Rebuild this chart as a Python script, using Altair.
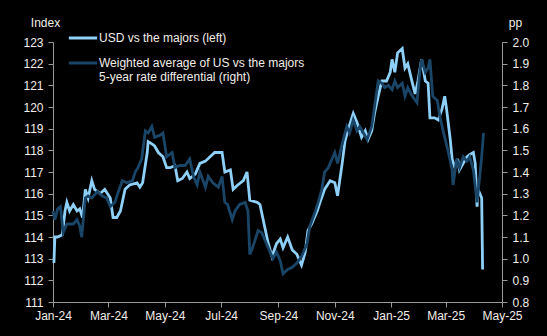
import altair as alt
import pandas as pd

# USD vs the majors (left axis, index)
usd_dates = [
    "2024-01-02", "2024-01-03", "2024-01-06", "2024-01-11", "2024-01-14", "2024-01-16", "2024-01-19",
    "2024-01-23", "2024-01-27", "2024-01-30", "2024-02-02", "2024-02-05", "2024-02-08", "2024-02-12",
    "2024-02-15", "2024-02-21", "2024-02-26", "2024-03-03", "2024-03-06", "2024-03-10", "2024-03-14",
    "2024-03-19", "2024-03-24", "2024-04-01", "2024-04-04", "2024-04-07", "2024-04-12", "2024-04-13",
    "2024-04-17", "2024-04-20", "2024-04-24", "2024-04-29", "2024-05-03", "2024-05-07", "2024-05-12",
    "2024-05-15", "2024-05-20", "2024-05-25", "2024-05-28", "2024-06-03", "2024-06-08", "2024-06-14",
    "2024-06-19", "2024-06-24", "2024-06-28", "2024-07-02", "2024-07-05", "2024-07-11", "2024-07-14",
    "2024-07-19", "2024-07-25", "2024-07-29", "2024-08-01", "2024-08-09", "2024-08-12", "2024-08-17",
    "2024-08-21", "2024-08-25", "2024-08-30", "2024-09-03", "2024-09-06", "2024-09-11", "2024-09-16",
    "2024-09-21", "2024-09-26", "2024-09-30", "2024-10-03", "2024-10-07", "2024-10-13", "2024-10-16",
    "2024-10-21", "2024-10-27", "2024-11-01", "2024-11-04", "2024-11-09", "2024-11-12", "2024-11-15",
    "2024-11-21", "2024-11-25", "2024-11-30", "2024-12-04", "2024-12-07", "2024-12-11", "2024-12-14",
    "2024-12-18", "2024-12-22", "2024-12-27", "2024-12-31", "2025-01-02", "2025-01-05", "2025-01-08",
    "2025-01-13", "2025-01-16", "2025-01-19", "2025-01-24", "2025-01-27", "2025-01-30", "2025-02-03",
    "2025-02-07", "2025-02-10", "2025-02-12", "2025-02-17", "2025-02-21", "2025-02-25", "2025-02-28",
    "2025-03-02", "2025-03-06", "2025-03-08", "2025-03-11", "2025-03-14", "2025-03-16", "2025-03-20",
    "2025-03-24", "2025-03-27", "2025-03-31", "2025-04-02", "2025-04-04", "2025-04-05", "2025-04-09",
    "2025-04-10",
]
usd_values = [
    112.8, 114.0, 114.0, 114.1, 115.2, 115.6, 115.2, 115.5, 115.2, 115.3,
    114.9, 116.2, 115.8, 116.6, 116.2, 116.0, 116.2, 115.8, 114.9, 114.9,
    115.2, 116.2, 116.4, 116.5, 116.3, 116.5, 117.9, 118.4, 118.3, 118.2,
    117.9, 117.7, 117.2, 117.2, 117.3, 116.6, 116.7, 117.0, 116.7, 116.9,
    117.4, 117.5, 117.7, 117.9, 117.9, 117.9, 117.0, 117.1, 116.2, 116.4,
    116.6, 117.0, 115.7, 115.6, 115.5, 114.5, 113.7, 113.1, 113.7, 113.9,
    113.5, 114.0, 113.4, 113.2, 112.7, 113.3, 114.3, 114.6, 115.2, 115.6,
    116.2, 116.6, 116.5, 115.9, 117.4, 118.4, 118.9, 119.7, 119.3, 118.6,
    118.9, 118.5, 118.9, 119.7, 120.5, 121.2, 121.2, 121.6, 122.2, 121.6,
    122.5, 122.7, 121.8, 122.0, 121.1, 120.6, 121.2, 122.2, 121.2, 121.1,
    119.5, 119.5, 119.4, 119.9, 120.5, 119.9, 118.5, 117.6, 117.2, 117.6,
    117.1, 117.4, 117.7, 117.8, 117.9, 117.4, 115.4, 116.2, 115.8, 112.5,
]

# Weighted average of US vs the majors 5-year rate differential (right axis, pp)
diff_dates = [
    "2024-01-01", "2024-01-03", "2024-01-06", "2024-01-09", "2024-01-12", "2024-01-16", "2024-01-19",
    "2024-01-23", "2024-01-27", "2024-01-30", "2024-02-01", "2024-02-05", "2024-02-08", "2024-02-12",
    "2024-02-18", "2024-02-23", "2024-02-28", "2024-03-03", "2024-03-08", "2024-03-11", "2024-03-16",
    "2024-03-21", "2024-03-27", "2024-03-30", "2024-04-02", "2024-04-06", "2024-04-10", "2024-04-13",
    "2024-04-17", "2024-04-20", "2024-04-26", "2024-04-29", "2024-05-03", "2024-05-09", "2024-05-12",
    "2024-05-17", "2024-05-23", "2024-05-28", "2024-06-01", "2024-06-05", "2024-06-08", "2024-06-14",
    "2024-06-17", "2024-06-22", "2024-06-28", "2024-07-02", "2024-07-05", "2024-07-08", "2024-07-13",
    "2024-07-16", "2024-07-21", "2024-07-27", "2024-07-30", "2024-08-01", "2024-08-04", "2024-08-10",
    "2024-08-14", "2024-08-17", "2024-08-21", "2024-08-26", "2024-08-30", "2024-09-03", "2024-09-06",
    "2024-09-11", "2024-09-16", "2024-09-21", "2024-09-26", "2024-10-02", "2024-10-05", "2024-10-11",
    "2024-10-14", "2024-10-18", "2024-10-21", "2024-10-25", "2024-10-29", "2024-11-01", "2024-11-04",
    "2024-11-09", "2024-11-14", "2024-11-17", "2024-11-21", "2024-11-25", "2024-11-28", "2024-12-02",
    "2024-12-06", "2024-12-11", "2024-12-14", "2024-12-18", "2024-12-22", "2024-12-25", "2024-12-29",
    "2025-01-02", "2025-01-05", "2025-01-08", "2025-01-13", "2025-01-16", "2025-01-19", "2025-01-24",
    "2025-01-29", "2025-02-01", "2025-02-03", "2025-02-07", "2025-02-10", "2025-02-12", "2025-02-15",
    "2025-02-20", "2025-02-23", "2025-02-28", "2025-03-04", "2025-03-08", "2025-03-09", "2025-03-13",
    "2025-03-16", "2025-03-20", "2025-03-24", "2025-03-27", "2025-03-31", "2025-04-04", "2025-04-05",
    "2025-04-09", "2025-04-11",
]
diff_values = [
    1.22, 1.18, 1.23, 1.24, 1.12, 1.16, 1.16, 1.16, 1.18, 1.15,
    1.10, 1.28, 1.29, 1.28, 1.31, 1.29, 1.28, 1.24, 1.26, 1.30,
    1.36, 1.35, 1.36, 1.40, 1.42, 1.46, 1.59, 1.58, 1.61, 1.56,
    1.57, 1.58, 1.47, 1.49, 1.42, 1.43, 1.43, 1.46, 1.38, 1.34,
    1.40, 1.33, 1.38, 1.35, 1.33, 1.38, 1.26, 1.25, 1.18, 1.22,
    1.25, 1.26, 1.22, 1.02, 1.05, 1.13, 1.12, 1.09, 1.05, 1.00,
    1.03, 0.99, 0.93, 0.95, 0.96, 0.98, 1.01, 1.07, 1.15, 1.22,
    1.26, 1.32, 1.40, 1.42, 1.46, 1.49, 1.44, 1.53, 1.61, 1.58,
    1.64, 1.59, 1.61, 1.58, 1.55, 1.61, 1.70, 1.82, 1.81, 1.79,
    1.80, 1.78, 1.82, 1.79, 1.81, 1.75, 1.79, 1.75, 1.72, 1.86,
    1.92, 1.86, 1.88, 1.92, 1.75, 1.73, 1.65, 1.56, 1.49, 1.41,
    1.34, 1.46, 1.42, 1.47, 1.45, 1.47, 1.41, 1.26, 1.30, 1.47,
    1.58,
]

series_names = ["USD vs the majors (left)", "Weighted average of US vs the majors"]
series_colors = ["#8ED0F8", "#1A4567"]
second_label_lines = ["Weighted average of US vs the majors", "5-year rate differential (right)"]

x_ticks = ["2024-01-01", "2024-03-01", "2024-05-01", "2024-07-01", "2024-09-01",
           "2024-11-01", "2025-01-01", "2025-03-01", "2025-05-01"]
left_ticks = list(range(111, 124))
right_ticks = [0.8, 0.9, 1.0, 1.1, 1.2, 1.3, 1.4, 1.5, 1.6, 1.7, 1.8, 1.9, 2.0]

usd_df = pd.DataFrame({"date": pd.to_datetime(usd_dates), "usd": usd_values,
                       "series": series_names[0]})
diff_df = pd.DataFrame({"date": pd.to_datetime(diff_dates), "diff": diff_values,
                        "series": series_names[1]})

TXT = "#F2EEE8"
AX = "#9A9A9A"
FONT = "Liberation Sans"

x_enc = alt.X(
    "date:T",
    scale=alt.Scale(domain=[x_ticks[0], x_ticks[-1]]),
    axis=alt.Axis(
        values=[pd.Timestamp(t).isoformat() for t in x_ticks],
        format="%b-%y", title=None, grid=False, labelFlush=False,
        labelPadding=3, tickSize=5,
    ),
)

label_expr = (
    "datum.label == '" + series_names[1] + "' ? ['" + second_label_lines[0] + "', '"
    + second_label_lines[1] + "'] : datum.label"
)

color_enc = alt.Color(
    "series:N",
    scale=alt.Scale(domain=series_names, range=series_colors),
    legend=alt.Legend(
        orient="none", legendX=14, legendY=-20, title=None,
        symbolType="stroke", symbolSize=800, symbolStrokeWidth=3,
        labelFontSize=12, labelColor=TXT, labelFont=FONT, labelLimit=400,
        rowPadding=3, labelOffset=0, labelExpr=label_expr,
    ),
)

usd_line = alt.Chart(usd_df).mark_line(strokeWidth=2.8, interpolate="linear").encode(
    x=x_enc,
    y=alt.Y(
        "usd:Q",
        scale=alt.Scale(domain=[111, 123], nice=False, zero=False),
        axis=alt.Axis(
            values=left_ticks, title="Index", titleAngle=0, titleAlign="center",
            titleX=-8, titleY=-13, titleFontWeight="normal", grid=False,
            labelPadding=5, tickSize=5,
        ),
    ),
    color=color_enc,
)

diff_line = alt.Chart(diff_df).mark_line(strokeWidth=2.8, interpolate="linear").encode(
    x=x_enc,
    y=alt.Y(
        "diff:Q",
        scale=alt.Scale(domain=[0.8, 2.0], nice=False, zero=False),
        axis=alt.Axis(
            orient="right", values=right_ticks, format=".1f", title="pp", titleAngle=0,
            titleAlign="center", titleX=13, titleY=-13, titleFontWeight="normal",
            grid=False, labelPadding=5, tickSize=5,
        ),
    ),
    color=color_enc,
)

chart = (
    alt.layer(usd_line, diff_line)
    .resolve_scale(y="independent")
    .properties(
        width=449, height=260,
        background="#000000",
        padding={"left": 53, "top": 42, "right": 45, "bottom": 34},
        autosize=alt.AutoSizeParams(type="none"),
    )
    .configure_view(stroke=None, fill="#000000")
    .configure_axis(
        labelColor=TXT, titleColor=TXT, domainColor=AX, tickColor=AX,
        labelFont=FONT, titleFont=FONT, labelFontSize=12, titleFontSize=12,
        domainWidth=1, tickWidth=1,
    )
)

chart.save("out.html", embed_options={"renderer": "svg", "actions": False})
